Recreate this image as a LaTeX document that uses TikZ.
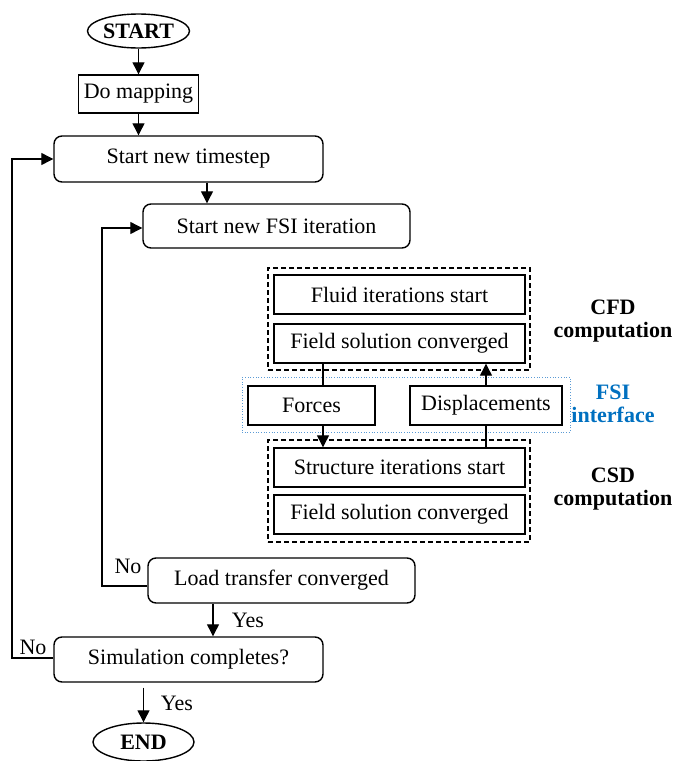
\documentclass[tikz,border=0pt]{standalone}
\usepackage{fontspec}
\setmainfont{Liberation Serif}
\usetikzlibrary{shapes.geometric,arrows.meta}
\definecolor{fsiblue}{RGB}{0,112,192}
\definecolor{dotblue}{RGB}{91,155,213}
\begin{document}
\begin{tikzpicture}[x=1pt,y=-1pt,
 font=\fontsize{22}{23}\selectfont,
 tbox/.style={draw, line width=1.4pt, inner sep=0pt, minimum height=39pt},
 rbox/.style={tbox, rounded corners=8pt, minimum height=45pt},
 term/.style={ellipse, draw, line width=1.4pt, inner sep=0pt, font=\fontsize{22}{23}\selectfont\bfseries},
 grp/.style={draw, line width=1.2pt, dash pattern=on 5pt off 3pt, inner sep=0pt},
 conn/.style={line width=1.2pt},
 arr/.style={conn, -{Triangle[length=12pt,width=12pt]}},
 lab/.style={inner sep=0pt},
 side/.style={font=\fontsize{22}{23}\selectfont\bfseries, align=center, inner sep=0pt},
]
\useasboundingbox (0,0) rectangle (674,761);
% group frames
\node[grp, minimum width=262pt, minimum height=102pt] (cfd) at (399,319) {};
\node[grp, minimum width=262pt, minimum height=102pt] (csd) at (399,491) {};
\node[draw=dotblue, dotted, line width=0.7pt, inner sep=0pt, minimum width=328pt, minimum height=55pt] (fsibox) at (406,404.5) {};
% nodes
\node[term, minimum width=102pt, minimum height=34pt] (start) at (138.5,31) {START};
\node[tbox, minimum width=120pt, minimum height=38pt] (map) at (138.5,94) {Do mapping};
\node[rbox, minimum width=269pt, minimum height=46pt] (ts) at (188.5,159) {Start new timestep};
\node[rbox, minimum width=267pt, minimum height=44pt] (fsi) at (276.5,226) {Start new FSI iteration};
\node[tbox, minimum width=251pt] (fluid) at (399.5,294.5) {Fluid iterations start};
\node[tbox, minimum width=251pt] (fieldc) at (399.5,343.5) {Field solution converged};
\node[tbox, minimum width=127pt] (forces) at (311.5,405.5) {Forces};
\node[tbox, minimum width=152pt] (disp) at (486,405.5) {Displacements};
\node[tbox, minimum width=251pt] (struct) at (399.5,467.5) {Structure iterations start};
\node[tbox, minimum width=251pt] (fields) at (399.5,514.5) {Field solution converged};
\node[rbox, minimum width=267pt] (load) at (281.5,580.5) {Load transfer converged};
\node[rbox, minimum width=269pt] (sim) at (188.5,659.5) {Simulation completes?};
\node[term, minimum width=101pt, minimum height=38pt] (end) at (143.5,742) {END};
% side labels
\node[side] (cfdl) at (613,321) {CFD\\computation};
\node[side, text=fsiblue] (fsil) at (613,403.5) {FSI\\interface};
\node[side] (csdl) at (613,489.5) {CSD\\computation};
% edge labels
\node[lab] (no1) at (128,566) {No};
\node[lab] (yes1) at (248,620) {Yes};
\node[lab] (no2) at (33,647) {No};
\node[lab] (yes2) at (177,703) {Yes};
% coordinates
\coordinate (fx) at (207,0);
\coordinate (cx) at (323,0);
\coordinate (yx) at (213,0);
\coordinate (ex) at (143.5,0);
\coordinate (l1) at (102,586);
\coordinate (l2) at (102,228);
\coordinate (o1) at (12,658);
\coordinate (o2) at (12,159);
% connectors
\draw[arr] (start) -- (map);
\draw[arr] (map) -- (map.south |- ts.north);
\draw[arr] (ts.south -| fx) -- (fsi.north -| fx);
\draw[conn] (fieldc.south -| cx) -- (forces.north -| cx);
\draw[arr] (forces.south -| cx) -- (struct.north -| cx);
\draw[conn] (struct.north -| disp) -- (disp.south);
\draw[arr] (disp.north) -- (disp.north |- fieldc.south);
\draw[arr] (load.west |- l1) -- (l1) -- (l2) -- (fsi.west |- l2);
\draw[arr] (sim.west |- o1) -- (o1) -- (o2) -- (ts.west |- o2);
\draw[arr] (load.south -| yx) -- (sim.north -| yx);
\draw[arr] ([yshift=-5pt]sim.south -| ex) -- (end.north -| ex);
\end{tikzpicture}
\end{document}
